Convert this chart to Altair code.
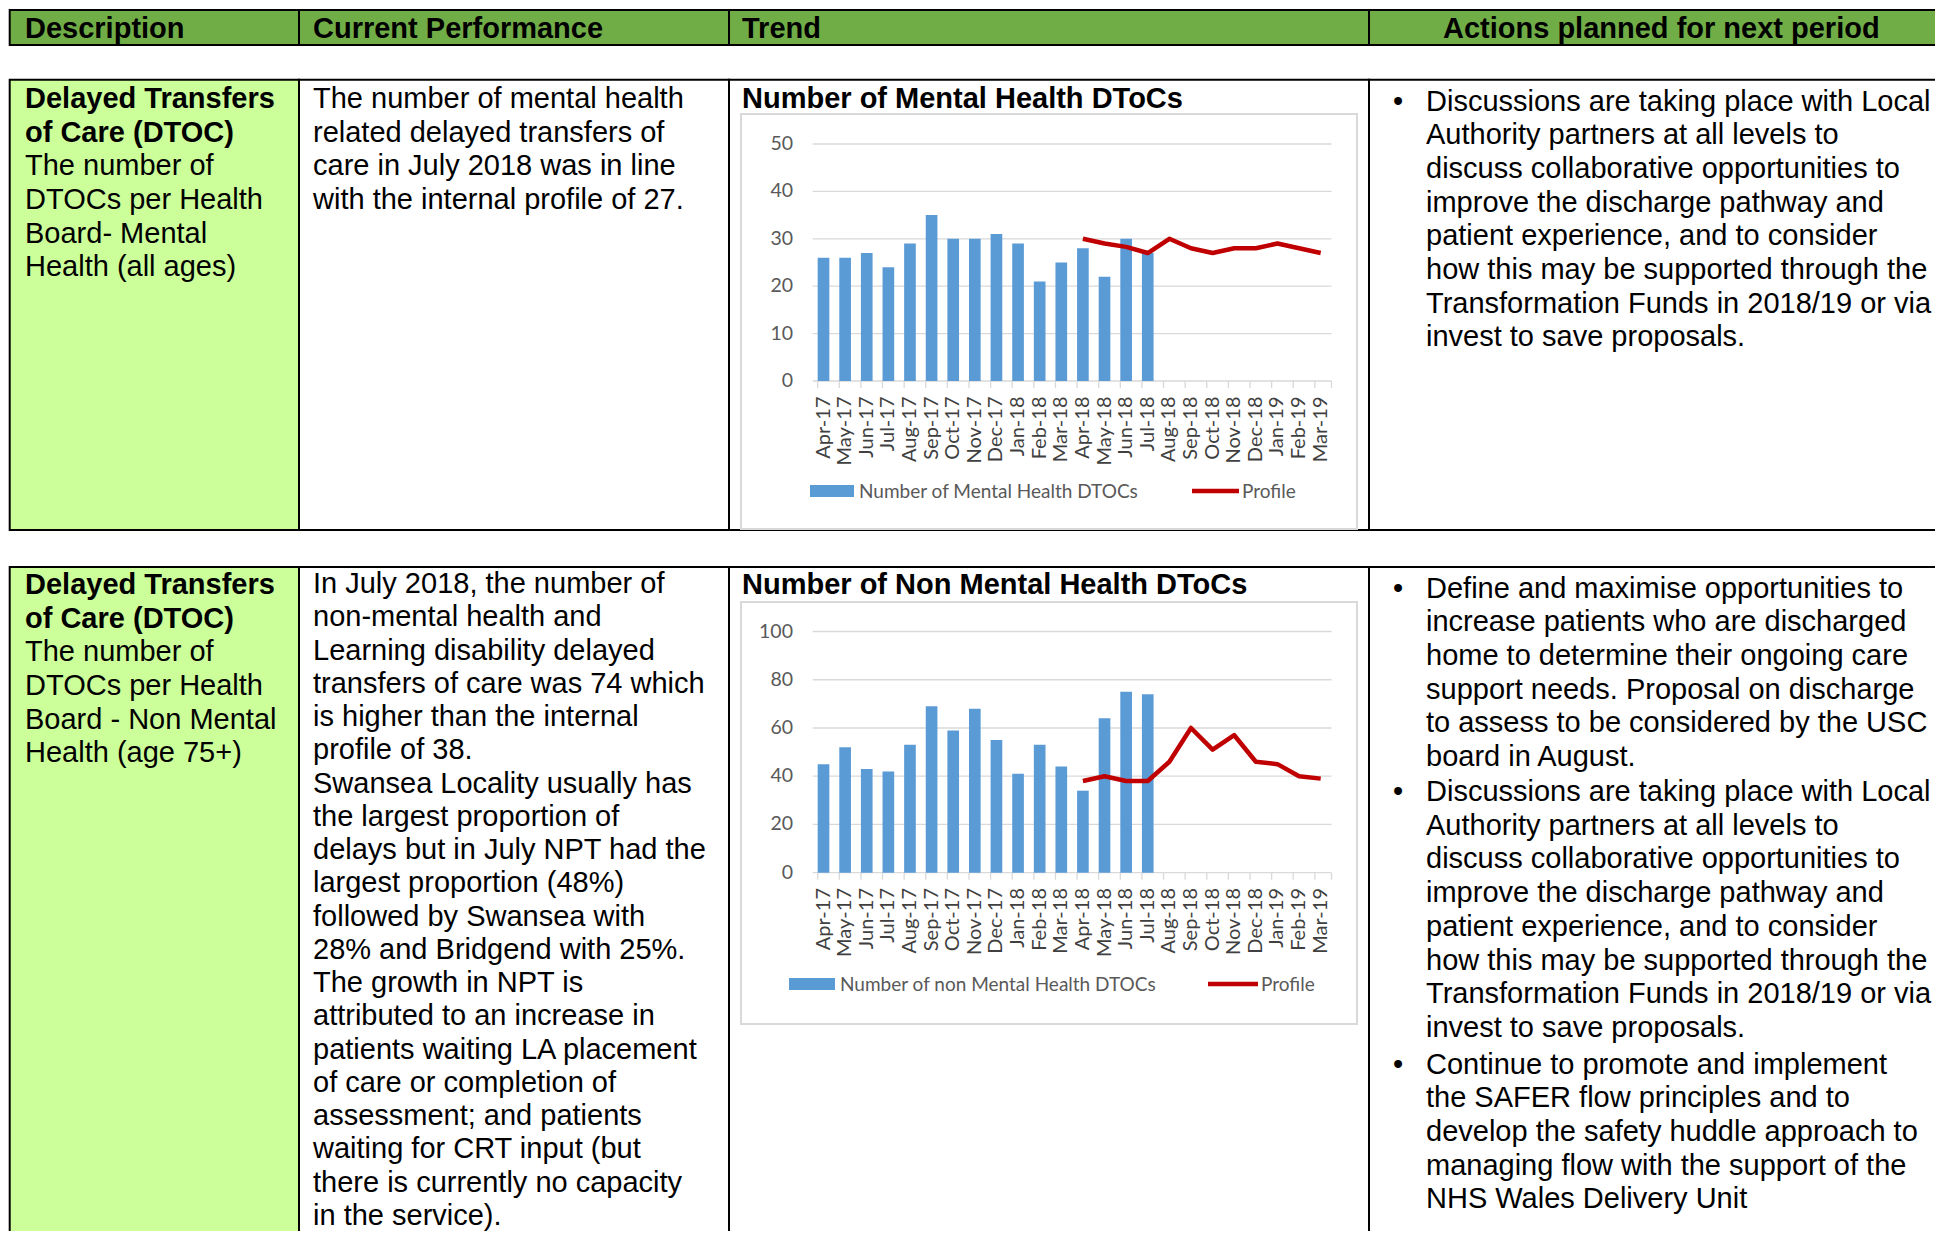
import altair as alt
import pandas as pd

# ---------------- data ----------------
months = ["Apr-17", "May-17", "Jun-17", "Jul-17", "Aug-17", "Sep-17", "Oct-17", "Nov-17",
          "Dec-17", "Jan-18", "Feb-18", "Mar-18", "Apr-18", "May-18", "Jun-18", "Jul-18",
          "Aug-18", "Sep-18", "Oct-18", "Nov-18", "Dec-18", "Jan-19", "Feb-19", "Mar-19"]

mh_counts = [26, 26, 27, 24, 29, 35, 30, 30, 31, 29, 21, 25, 28, 22, 30, 27]      # Apr-17 .. Jul-18
mh_profile = [30, 29, 28.3, 27, 30, 28, 27, 28, 28, 29, 28, 27]                    # Apr-18 .. Mar-19
nmh_counts = [45, 52, 43, 42, 53, 69, 59, 68, 55, 41, 53, 44, 34, 64, 75, 74]     # Apr-17 .. Jul-18
nmh_profile = [38, 40, 38, 38, 46, 60, 51, 57, 46, 45, 40, 39]                     # Apr-18 .. Mar-19

mh_ticks = [0, 10, 20, 30, 40, 50]
nmh_ticks = [0, 20, 40, 60, 80, 100]

mh_bar_name = "Number of Mental Health DTOCs"
nmh_bar_name = "Number of non Mental Health DTOCs"
line_name = "Profile"
mh_title = "Number of Mental Health DToCs"
nmh_title = "Number of Non Mental Health DToCs"

headers = ["Description", "Current Performance", "Trend", "Actions planned for next period"]

r1_desc_bold = ["Delayed Transfers", "of Care (DTOC)"]
r1_desc = ["The number of", "DTOCs per Health", "Board- Mental", "Health (all ages)"]
r1_perf = ["The number of mental health", "related delayed transfers of",
           "care in July 2018 was in line", "with the internal profile of 27."]
discussions = ["Discussions are taking place with Local", "Authority partners at all levels to",
               "discuss collaborative opportunities to", "improve the discharge pathway and",
               "patient experience, and to consider", "how this may be supported through the",
               "Transformation Funds in 2018/19 or via", "invest to save proposals."]

r2_desc_bold = ["Delayed Transfers", "of Care (DTOC)"]
r2_desc = ["The number of", "DTOCs per Health", "Board - Non Mental", "Health (age 75+)"]
r2_perf = ["In July 2018, the number of", "non-mental health and", "Learning disability delayed",
           "transfers of care was 74 which", "is higher than the internal", "profile of 38.",
           "Swansea Locality usually has", "the largest proportion of",
           "delays but in July NPT had the", "largest proportion (48%)", "followed by Swansea with",
           "28% and Bridgend with 25%.", "The growth in NPT is", "attributed to an increase in",
           "patients waiting LA placement", "of care or completion of", "assessment; and patients",
           "waiting for CRT input (but", "there is currently no capacity", "in the service)."]
r2_bullet1 = ["Define and maximise opportunities to", "increase patients who are discharged",
              "home to determine their ongoing care", "support needs. Proposal on discharge",
              "to assess to be considered by the USC", "board in August."]
r2_bullet3 = ["Continue to promote and implement", "the SAFER flow principles and to",
              "develop the safety huddle approach to", "managing flow with the support of the",
              "NHS Wales Delivery Unit"]

# ---------------- styling / layout ----------------
OFF = 8
def P(v):
    return v - OFF

BODY_FONT = "Liberation Sans"
CHART_FONT = "Lato"
FS = 29
LH = 33.7
HEADER_GREEN = "#70AD47"
DESC_GREEN = "#CCFF99"
BAR_BLUE = "#5B9BD5"
LINE_RED = "#C00000"
GRID = "#D9D9D9"
AXIS_TXT = "#595959"

LEFT = 9.7
COLS = [LEFT, 299, 729, 1369, 2000]
ONE = alt.Data(values=[{"k": 0}])


def rect(x, x2, y, y2, fill, stroke="black", sw=2):
    return alt.Chart(ONE).mark_rect(fill=fill, stroke=stroke, strokeWidth=sw).encode(
        x=alt.value(P(x)), x2=alt.value(P(x2)), y=alt.value(P(y)), y2=alt.value(P(y2)))


def text(lines, x, y, bold=False, size=FS, font=BODY_FONT, color="black", align="left", lh=LH):
    return alt.Chart(ONE).mark_text(
        text=lines, font=font, fontSize=size, fontWeight="bold" if bold else "normal",
        color=color, align=align, baseline="alphabetic", lineHeight=lh
    ).encode(x=alt.value(P(x)), y=alt.value(P(y)))


layers = []

# header row
for i in range(4):
    layers.append(rect(COLS[i], COLS[i + 1], 10, 45, HEADER_GREEN))
hx = [25, 313, 742, 1443]
for i, h in enumerate(headers):
    layers.append(text(h, hx[i], 38, bold=True))

# table rows
fills = [DESC_GREEN, "white", "white", "white"]
for (y0, y1) in [(79.7, 530), (567, 1300)]:
    for i in range(4):
        layers.append(rect(COLS[i], COLS[i + 1], y0, y1, fills[i]))

# row 1 texts
layers.append(text(r1_desc_bold, 25, 108, bold=True))
layers.append(text(r1_desc, 25, 108 + 2 * LH))
layers.append(text(r1_perf, 313, 108))
layers.append(text(mh_title, 742, 108, bold=True))
layers.append(text("\u2022", 1393, 110.5))
layers.append(text(discussions, 1426, 110.5))

# row 2 texts
layers.append(text(r2_desc_bold, 25, 594, bold=True))
layers.append(text(r2_desc, 25, 594 + 2 * LH))
layers.append(text(r2_perf, 313, 593, lh=33.25))
layers.append(text(nmh_title, 742, 594, bold=True))
for yb, lines in [(597.5, r2_bullet1), (801, discussions), (1073.5, r2_bullet3)]:
    layers.append(text("\u2022", 1393, yb))
    layers.append(text(lines, 1426, yb))


def trend_chart(counts, profile, ticks, box, y_zero, y_top, xlab_top, legend, bar_name):
    bx0, by0, bx1, by1 = box
    band0, band1 = 812.7, 1331.5
    xs = alt.Scale(domain=months, range=[P(band0), P(band1)], paddingInner=0.46, paddingOuter=0.23)
    ys = alt.Scale(domain=[ticks[0], ticks[-1]], range=[P(y_zero), P(y_top)], nice=False, zero=True)

    bars_df = pd.DataFrame({"month": months[:len(counts)], "value": counts})
    prof_df = pd.DataFrame({"month": months[len(months) - len(profile):], "value": profile})
    tick_df = pd.DataFrame({"tick": ticks})
    month_df = pd.DataFrame({"month": months})

    xenc = alt.X("month:N", scale=xs, axis=None)
    yenc = alt.Y("value:Q", scale=ys, axis=None)

    box_l = rect(bx0, bx1, by0, by1, "white", stroke=GRID, sw=2)
    grid = alt.Chart(tick_df).mark_rule(color=GRID, strokeWidth=1.3).encode(
        y=alt.Y("tick:Q", scale=ys, axis=None), x=alt.value(P(band0)), x2=alt.value(P(band1)))
    xticks = alt.Chart(month_df).mark_rule(color=GRID, strokeWidth=1.3).encode(
        x=alt.X("month:N", scale=xs, axis=None, bandPosition=0),
        y=alt.value(P(y_zero)), y2=alt.value(P(y_zero + 7)))
    lasttick = alt.Chart(ONE).mark_rule(color=GRID, strokeWidth=1.3).encode(
        x=alt.value(P(band1)), y=alt.value(P(y_zero)), y2=alt.value(P(y_zero + 7)))
    ylabels = alt.Chart(tick_df).mark_text(
        align="right", baseline="middle", font=CHART_FONT, fontSize=19.5, color=AXIS_TXT).encode(
        y=alt.Y("tick:Q", scale=ys, axis=None), x=alt.value(P(793)), text="tick:Q")
    xlabels = alt.Chart(month_df).mark_text(
        angle=270, align="right", baseline="middle", font=CHART_FONT, fontSize=20, color="#404040").encode(
        x=xenc, y=alt.value(P(xlab_top)), text="month:N")
    bars = alt.Chart(bars_df).mark_bar(color=BAR_BLUE).encode(x=xenc, y=yenc)
    line = alt.Chart(prof_df).mark_line(color=LINE_RED, strokeWidth=4.5, strokeJoin="round").encode(x=xenc, y=yenc)

    ly, rx0, rx1, tx, lx0, lx1, ptx = legend
    leg_rect = rect(rx0, rx1, ly - 6, ly + 6, BAR_BLUE, stroke=BAR_BLUE, sw=0)
    leg_txt = text(bar_name, tx, ly + 7, size=19, font=CHART_FONT, color=AXIS_TXT)
    leg_line = alt.Chart(ONE).mark_rule(color=LINE_RED, strokeWidth=4.5).encode(
        x=alt.value(P(lx0)), x2=alt.value(P(lx1)), y=alt.value(P(ly)))
    leg_ptxt = text(line_name, ptx, ly + 7, size=19, font=CHART_FONT, color=AXIS_TXT)

    return alt.layer(box_l, grid, xticks, lasttick, ylabels, xlabels, bars, line,
                     leg_rect, leg_txt, leg_line, leg_ptxt)


chart1 = trend_chart(mh_counts, mh_profile, mh_ticks, (741, 114, 1357, 529), 381, 144, 396.5,
                     (491, 810, 854, 859, 1192, 1239, 1242), mh_bar_name)
chart2 = trend_chart(nmh_counts, nmh_profile, nmh_ticks, (741, 602, 1357, 1024), 872.7, 631.5, 888,
                     (984, 789, 835, 840, 1208, 1258, 1261), nmh_bar_name)

chart = alt.layer(*layers, chart1, chart2).resolve_scale(
    x="independent", y="independent"
).properties(
    width=1927, height=1223, padding=0, autosize=alt.AutoSizeParams(type="none")
).configure_view(strokeWidth=0)

chart.save("out.html", embed_options={"renderer": "svg", "actions": False})
